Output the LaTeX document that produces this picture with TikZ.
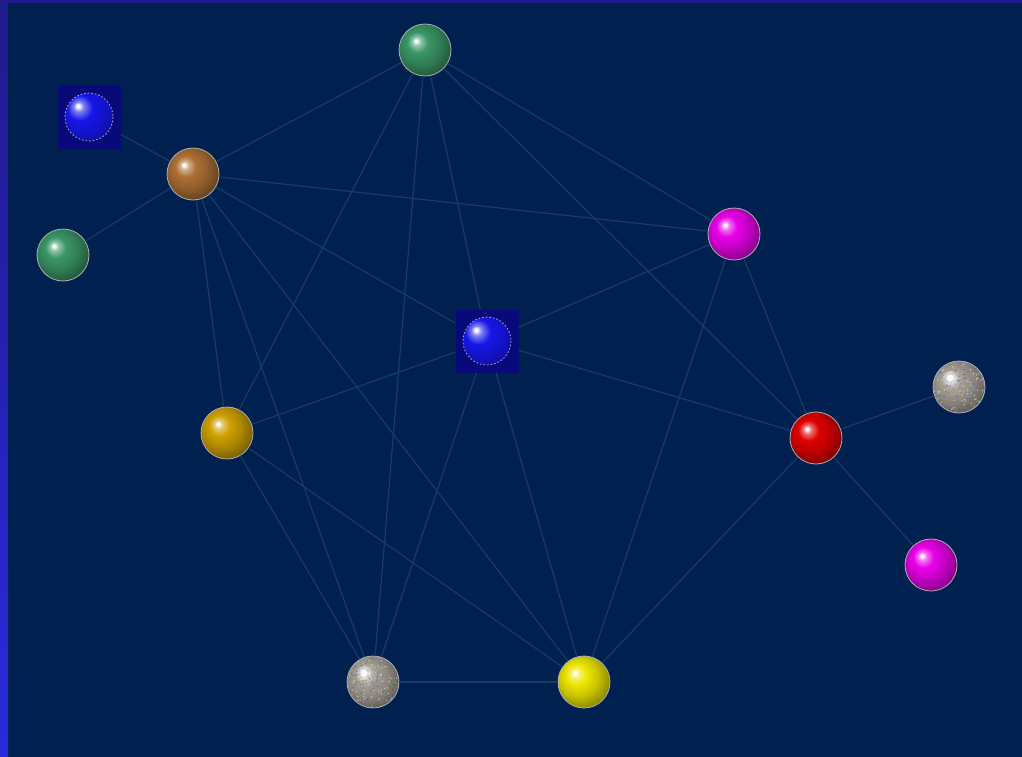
\documentclass[tikz,border=0pt]{standalone}
\definecolor{bg}{RGB}{0,33,80}
\definecolor{stripA}{RGB}{32,26,140}
\definecolor{stripB}{RGB}{42,42,220}
\definecolor{edgec}{RGB}{18,62,106}
\definecolor{sqc}{RGB}{8,10,122}
\definecolor{blueb}{RGB}{22,22,232}
\definecolor{greenb}{RGB}{58,150,102}
\definecolor{brownb}{RGB}{172,112,52}
\definecolor{goldb}{RGB}{205,160,0}
\definecolor{yellowb}{RGB}{235,230,0}
\definecolor{redb}{RGB}{222,0,0}
\definecolor{magb}{RGB}{232,0,232}
\definecolor{silverb}{RGB}{165,160,150}
\definecolor{spk1}{RGB}{200,110,110}
\definecolor{spk2}{RGB}{110,170,120}
\definecolor{spk3}{RGB}{130,130,210}
\definecolor{spk4}{RGB}{90,90,90}
\definecolor{spk5}{RGB}{235,230,215}
\definecolor{rimc}{RGB}{175,175,175}
\colorlet{ballc}{blue}
\pgfdeclareradialshading[ballc]{myball}{\pgfpoint{-9bp}{9bp}}{%
  color(0bp)=(white); color(1bp)=(white); color(4bp)=(white!45!ballc); color(10bp)=(ballc);
  color(19bp)=(ballc!85!black); color(30bp)=(ballc!58!black); color(38bp)=(ballc!45!black); color(50bp)=(ballc!45!black)}
\tikzset{
  ball/.style={circle, minimum size=52pt, inner sep=0pt,
    /utils/exec={\colorlet{ballc}{#1}}, shading=myball, draw=rimc, line width=0.8pt},
  silverball/.style={ball=silverb, path picture={
      \foreach \i in {1,...,420}{
        \pgfmathrandominteger{\c}{1}{5}
        \fill[spk\c, opacity=0.6, shift={(path picture bounding box.center)}] ({rand*26},{rand*26}) circle (0.8);
      }
      \fill[white, opacity=0.3, shift={(path picture bounding box.center)}] (-9,-9) circle (7);
      \fill[white, opacity=0.8, shift={(path picture bounding box.center)}] (-9,-9) circle (3.5);
    }},
  bluebox/.style={rectangle, minimum size=63pt, inner sep=0pt, fill=sqc, path picture={
      \colorlet{ballc}{blueb}
      \shade[shading=myball] (path picture bounding box.center) circle (24);
      \draw[rimc, dash pattern=on 1.6pt off 2pt, line width=0.8pt] (path picture bounding box.center) circle (24);
    }},
  link/.style={draw=edgec, line width=1.2pt}
}
\begin{document}
\begin{tikzpicture}[x=1pt,y=-1pt]
\pgfmathsetseed{7}
\useasboundingbox (0,0) rectangle (1022,757);
\fill[bg] (0,0) rectangle (1022,757);
\shade[top color=stripA, bottom color=stripB] (0,0) rectangle (8,757);
\fill[stripA] (0,0) rectangle (1022,3);

\node[ball=greenb] (g1) at (425,50) {};
\node[bluebox] (b1) at (89,117) {};
\node[ball=brownb] (br) at (193,174) {};
\node[ball=greenb] (g2) at (63,255) {};
\node[ball=magb] (m1) at (734,234) {};
\node[bluebox] (b2) at (487,341) {};
\node[silverball] (s1) at (959,387) {};
\node[ball=redb] (rd) at (816,438) {};
\node[ball=goldb] (au) at (227,433) {};
\node[ball=magb] (m2) at (931,565) {};
\node[silverball] (s2) at (373,682) {};
\node[ball=yellowb] (yw) at (584,682) {};

\draw[link] (b1) -- (br);
\draw[link] (br) -- (g2);
\draw[link] (br) -- (g1);
\draw[link] (br) -- (m1);
\draw[link] (br) -- (b2);
\draw[link] (br) -- (au);
\draw[link] (br) -- (s2);
\draw[link] (br) -- (yw);
\draw[link] (g1) -- (au);
\draw[link] (g1) -- (s2);
\draw[link] (g1) -- (b2);
\draw[link] (g1) -- (rd);
\draw[link] (g1) -- (m1);
\draw[link] (m1) -- (b2);
\draw[link] (m1) -- (rd);
\draw[link] (m1) -- (yw);
\draw[link] (b2) -- (au);
\draw[link] (b2) -- (rd);
\draw[link] (b2) -- (s2);
\draw[link] (b2) -- (yw);
\draw[link] (au) -- (s2);
\draw[link] (au) -- (yw);
\draw[link] (s2) -- (yw);
\draw[link] (rd) -- (s1);
\draw[link] (rd) -- (m2);
\draw[link] (rd) -- (yw);
\end{tikzpicture}
\end{document}
